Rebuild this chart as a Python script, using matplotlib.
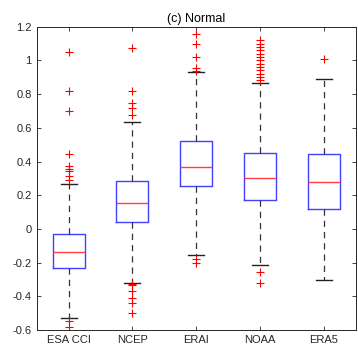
import matplotlib
matplotlib.use('Agg')
import matplotlib.pyplot as plt

plt.rcParams['font.family'] = ['Liberation Sans', 'DejaVu Sans']

# ── data ──
labels = ['ESA CCI', 'NCEP', 'ERAI', 'NOAA', 'ERA5']
q1     = [-0.232, 0.041, 0.253, 0.172, 0.116]
med    = [-0.135, 0.156, 0.369, 0.300, 0.277]
q3     = [-0.030, 0.282, 0.520, 0.452, 0.443]
wlo    = [-0.529, -0.321, -0.153, -0.216, -0.302]
whi    = [0.265, 0.634, 0.929, 0.864, 0.891]
fliers = [
    [1.05, 0.818, 0.70, 0.446, 0.375, 0.356, 0.344, 0.316, 0.29, -0.545, -0.584],
    [1.075, 0.818, 0.745, 0.72, 0.676, -0.327, -0.335, -0.369, -0.412, -0.438, -0.497],
    [1.155, 1.10, 1.018, 0.953, 0.937, -0.179, -0.204],
    [1.12, 1.10, 1.08, 1.06, 1.04, 1.02, 1.0, 0.98, 0.96, 0.94, 0.92, 0.90, 0.885,
     -0.254, -0.321],
    [1.008],
]

stats = []
for i in range(len(labels)):
    stats.append(dict(label=labels[i], q1=q1[i], med=med[i], q3=q3[i],
                      whislo=wlo[i], whishi=whi[i], fliers=fliers[i]))

fig = plt.figure(figsize=(3.58, 3.60), dpi=100)
ax = fig.add_axes([0.1025, 0.083, 0.891, 0.843])

ax.bxp(stats, widths=0.5, showfliers=True,
       boxprops=dict(color='#4040ff', linewidth=1.0),
       medianprops=dict(color='#ff4040', linewidth=1.0),
       whiskerprops=dict(color='#333333', linewidth=0.9, linestyle=(0, (5, 4))),
       capprops=dict(color='#222222', linewidth=1.0),
       flierprops=dict(marker='+', markeredgecolor='red', markersize=6,
                       markeredgewidth=0.8, linestyle='none'))
for c in ax.lines:
    pass

ax.set_xlim(0.5, 5.5)
ax.set_ylim(-0.6, 1.2)
ax.set_yticks([-0.6, -0.4, -0.2, 0, 0.2, 0.4, 0.6, 0.8, 1.0, 1.2])
ax.set_yticklabels(['-0.6', '-0.4', '-0.2', '0', '0.2', '0.4', '0.6', '0.8', '1', '1.2'])
ax.tick_params(direction='in', top=True, right=True, labelsize=8,
               colors='#262626', length=3, width=0.6)
for s in ax.spines.values():
    s.set_color('#262626')
    s.set_linewidth(0.7)
ax.set_title('(c) Normal', fontsize=9, color='black', pad=3)

fig.savefig('out.png', dpi=100)
